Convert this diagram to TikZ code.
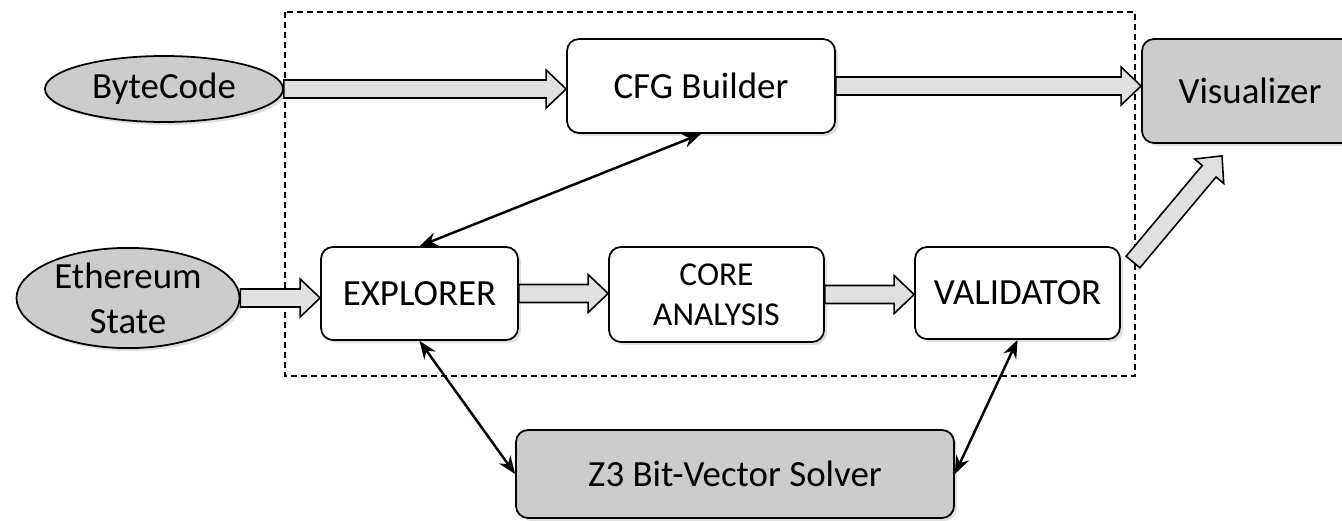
\documentclass[tikz,border=0pt]{standalone}
\usepackage{fontspec}
\setmainfont{Carlito}
\usetikzlibrary{arrows.meta,calc,shapes.geometric,shadows}
\tikzset{
  >={Stealth[length=3.6mm,width=2.8mm]},
  {module/.style} = {draw, line width=1pt, rounded corners=2.4mm, fill=#1,
                     align=center, inner sep=0,
                     font=\fontsize{21}{25}\selectfont,
                     drop shadow={opacity=.25, shadow xshift=.6mm, shadow yshift=-.6mm}},
  module/.default = white,
  {input/.style} = {ellipse, draw, line width=1pt, fill=black!20, align=center,
                    inner sep=0, font=\fontsize{21}{25.6}\selectfont,
                    drop shadow={opacity=.25, shadow xshift=.6mm, shadow yshift=-.6mm}},
  {fat arrow/.style} = {draw, line width=.9pt, fill=black!12, line join=miter},
  {dashed box/.style} = {draw, line width=.8pt, dash pattern=on 1.2mm off .8mm},
  {link/.style} = {line width=1.4pt, <->},
}
% big hollow arrow from #1 to #2
\newcommand{\bigarrow}[2]{%
  \draw[fat arrow] let \p1=(#1), \p2=(#2), \n1={atan2(\y2-\y1,\x2-\x1)} in
    ($(\p1)+(\n1+90:.18)$) -- ($(\p2)+(\n1+180:.4)+(\n1+90:.18)$)
    -- ($(\p2)+(\n1+180:.4)+(\n1+90:.38)$) -- (\p2)
    -- ($(\p2)+(\n1+180:.4)+(\n1-90:.38)$)
    -- ($(\p2)+(\n1+180:.4)+(\n1-90:.18)$)
    -- ($(\p1)+(\n1-90:.18)$) -- cycle;}

\begin{document}
\begin{tikzpicture}
\useasboundingbox (0,0) rectangle (26.84,-10.42);
\draw[dashed box] (5.70,-0.24) rectangle (22.70,-7.52);

\node[input, minimum width=4.76cm, minimum height=1.32cm] (BC) at (3.28,-1.78) {ByteCode};
\node[input, minimum width=4.46cm, minimum height=2cm] (ES) at (2.56,-5.96) {Ethereum\\State};

\node[module, minimum width=5.36cm, minimum height=1.88cm] (CFG) at (14.02,-1.72) {CFG Builder};
\node[module=black!20, minimum width=4.32cm, minimum height=2.08cm] (VIS) at (25.0,-1.82) {Visualizer};
\node[module, minimum width=3.94cm, minimum height=1.86cm] (EX) at (8.39,-5.87) {EXPLORER};
\node[module, minimum width=4.3cm, minimum height=1.9cm,
      font=\fontsize{19}{23}\selectfont] (CA) at (14.33,-5.89) {CORE\\ANALYSIS};
\node[module, minimum width=4.1cm, minimum height=1.84cm] (VAL) at (20.35,-5.86) {VALIDATOR};
\node[module=black!20, minimum width=8.76cm, minimum height=1.76cm] (Z3) at (14.70,-9.48) {Z3 Bit-Vector Solver};

\coordinate (VT) at (22.66,-5.24);
\coordinate (VH) at ($(VIS.south)+(-.56,-.24)$);

\bigarrow{BC.east}{BC.east -| CFG.west}
\bigarrow{CFG.east}{CFG.east -| VIS.west}
\bigarrow{ES.east}{ES.east -| EX.west}
\bigarrow{EX.east}{EX.east -| CA.west}
\bigarrow{CA.east}{CA.east -| VAL.west}
\bigarrow{VT}{VH}

\path[link] (CFG.south) edge (EX.north);
\path[link] (EX.south) edge (Z3.west);
\path[link] (VAL.south) edge (Z3.east);
\end{tikzpicture}
\end{document}
